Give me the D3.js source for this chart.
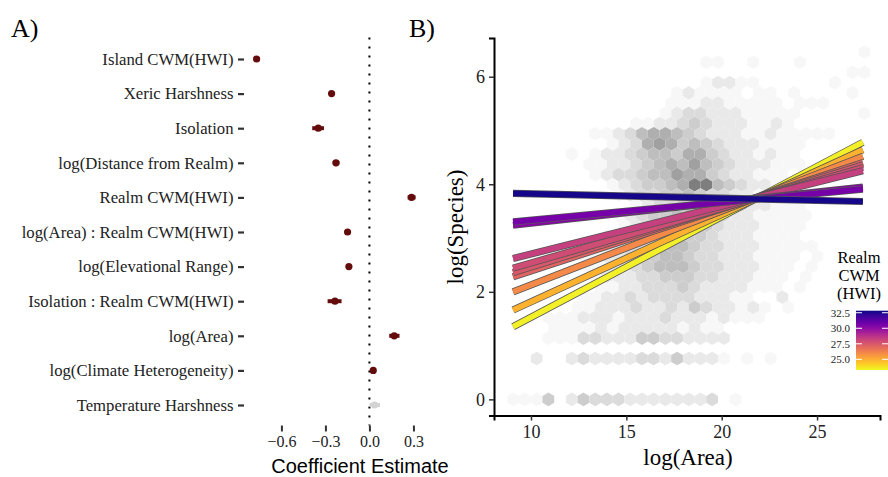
<!DOCTYPE html>
<html>
<head>
<meta charset="utf-8">
<script src="https://cdn.jsdelivr.net/npm/d3@7"></script>
<style>
  body { margin: 0; background: #fff; }
  svg { display: block; }
</style>
</head>
<body>
<div id="chart"></div>
<script>
// ---------- data: panel A (model coefficients) ----------
const terms = ['Island CWM(HWI)', 'Xeric Harshness', 'Isolation', 'log(Distance from Realm)',
  'Realm CWM(HWI)', 'log(Area) : Realm CWM(HWI)', 'log(Elevational Range)',
  'Isolation : Realm CWM(HWI)', 'log(Area)', 'log(Climate Heterogeneity)', 'Temperature Harshness'];
const coefEst = [-0.769, -0.258, -0.349, -0.228, 0.287, -0.149, -0.140, -0.235, 0.169, 0.026, 0.035];
const coefLo  = [-0.780, -0.268, -0.390, -0.250, 0.260, -0.160, -0.152, -0.285, 0.135, 0.012, 0.000];
const coefHi  = [-0.756, -0.248, -0.310, -0.205, 0.315, -0.138, -0.128, -0.190, 0.205, 0.040, 0.072];
const coefSig = [true, true, true, true, true, true, true, true, true, true, false];
const coefTicks = [-0.6, -0.3, 0.0, 0.3];

// ---------- data: panel B (hexbin counts + realm fits) ----------
// hex grid: [row, first column, shade levels 0-9]
const hexRows = [
  [34, 30, '1'],
  [33, 16, '110010001'],
  [32, 29, '11'],
  [31, 16, '122110000001'],
  [30, 14, '1211110110100001'],
  [29, 13, '111221111101110'],
  [28, 13, '123322211111000001'],
  [27, 10, '11223432221121'],
  [26, 7,  '112356654322211211111'],
  [25, 8,  '12367645432221111'],
  [24, 5,  '10122345546643221211'],
  [23, 6,  '1122345657543222111'],
  [22, 7,  '12334557664322111'],
  [21, 8,  '1234456995432211'],
  [20, 9,  '12334454332211'],
  [19, 10, '123345544322111'],
  [18, 9,  '12344554332211111'],
  [17, 9,  '1234554432221111'],
  [16, 8,  '12334554432221111'],
  [15, 7,  '1223345543322211111'],
  [14, 6,  '112233455433222111101'],
  [13, 6,  '11223455543322211101'],
  [12, 7,  '1222334443322211101'],
  [11, 7,  '112233343222211101'],
  [10, 6,  '112232333322211002'],
  [9, 5,   '1122232232432212101'],
  [8, 3,   '1112221222322212111'],
  [7, 3,   '111121222221211'],
  [6, 3,   '1113322244332222'],
  [4, 2,   '200232222332422210101'],
  [0, 0,   '11140243332222222301']
];
const hexX0 = 9.07, hexDX = 0.6135, hexDY = 0.19;

const realmCWM = [32.7, 30.6, 30.2, 28.3, 27.9, 27.5, 27.1, 26.0, 24.9, 23.5];
const fitX = [9.06, 27.4];
const fitLeft  = [3.83, 3.30, 3.24, 2.62, 2.44, 2.36, 2.28, 2.00, 1.66, 1.35];
const fitRight = [3.68, 3.91, 3.95, 4.25, 4.31, 4.36, 4.40, 4.52, 4.64, 4.78];

const xTicksB = [10, 15, 20, 25];
const yTicksB = [0, 2, 4, 6];
const legendTicks = [25.0, 27.5, 30.0, 32.5];
const legendRange = [23.28, 32.83];

// ---------- setup ----------
const width = 888, height = 477;
const serif = 'Liberation Serif, Times New Roman, serif';

const svg = d3.select('#chart').append('svg')
  .attr('width', width)
  .attr('height', height);

// =================== PANEL A ===================
const xA = d3.scaleLinear().domain([-0.855, 0.37]).range([244, 423.7]);
const yA = d3.scalePoint().domain(terms).range([59, 405]);

svg.append('text').attr('x', 11).attr('y', 37)
  .attr('font-family', serif).attr('font-size', 26).attr('fill', '#000').text('A)');

// zero reference line
svg.append('line')
  .attr('x1', xA(0)).attr('x2', xA(0))
  .attr('y1', 37.5).attr('y2', 425.5)
  .attr('stroke', '#000').attr('stroke-width', 2)
  .attr('stroke-dasharray', '2,7');

const coefData = terms.map((t, i) => ({ term: t, est: coefEst[i], lo: coefLo[i], hi: coefHi[i], sig: coefSig[i] }));

const gA = svg.append('g');
gA.selectAll('line.ci').data(coefData).enter().append('line')
  .attr('class', 'ci')
  .attr('x1', d => xA(d.lo)).attr('x2', d => xA(d.hi))
  .attr('y1', d => yA(d.term)).attr('y2', d => yA(d.term))
  .attr('stroke', d => d.sig ? '#640c0c' : '#d3d3d3')
  .attr('stroke-width', 4);
gA.selectAll('circle').data(coefData).enter().append('circle')
  .attr('cx', d => xA(d.est)).attr('cy', d => yA(d.term))
  .attr('r', 3.6)
  .attr('fill', d => d.sig ? '#640c0c' : '#d3d3d3');

// y axis (labels only + ticks)
const axA = svg.append('g').attr('transform', 'translate(244,0)')
  .call(d3.axisLeft(yA).tickSize(6).tickPadding(4.5));
axA.select('.domain').remove();
axA.selectAll('.tick line').attr('stroke', '#333').attr('stroke-width', 2.2);
axA.selectAll('.tick text').attr('font-family', serif).attr('font-size', 16.7).attr('fill', '#222');

// x axis
const axAx = svg.append('g').attr('transform', 'translate(0,425.5)')
  .call(d3.axisBottom(xA).tickValues(coefTicks).tickFormat(d3.format('.1f')).tickSize(6).tickPadding(4));
axAx.select('.domain').remove();
axAx.selectAll('.tick line').attr('stroke', '#333').attr('stroke-width', 2);
axAx.selectAll('.tick text').attr('font-family', serif).attr('font-size', 16).attr('fill', '#222');

svg.append('text').attr('x', 360).attr('y', 473)
  .attr('text-anchor', 'middle')
  .attr('font-family', 'Liberation Sans, Arial, sans-serif').attr('font-size', 20)
  .attr('fill', '#000').text('Coefficient Estimate');

// =================== PANEL B ===================
const xB = d3.scaleLinear().domain([8.06, 28.3]).range([494, 880]);
const yB = d3.scaleLinear().domain([-0.3, 6.72]).range([415.5, 38]);

svg.append('text').attr('x', 409).attr('y', 37)
  .attr('font-family', serif).attr('font-size', 26).attr('fill', '#000').text('B)');

// hexbins
const hexes = [];
hexRows.forEach(([k, c0, levels]) => {
  levels.split('').forEach((ch, j) => {
    const lv = +ch;
    if (lv === 0) return;
    const c = c0 + j;
    hexes.push({
      x: hexX0 + c * hexDX + (k % 2 ? hexDX / 2 : 0),
      y: k * hexDY,
      level: lv
    });
  });
});

const hexShade = d3.scaleLinear().domain([1, 9]).range(['#f7f7f7', '#7e7e7e'])
  .interpolate(d3.interpolateRgb.gamma(1.4));
const hw = hexDX / 2, hr = hexDY * 2 / 3;
function hexPath(d) {
  const pts = [[0, hr], [hw, hr / 2], [hw, -hr / 2], [0, -hr], [-hw, -hr / 2], [-hw, hr / 2]];
  return 'M' + pts.map(p => [xB(d.x + p[0]), yB(d.y + p[1])].join(',')).join('L') + 'Z';
}

svg.append('g').selectAll('path').data(hexes).enter().append('path')
  .attr('d', hexPath)
  .attr('fill', d => hexShade(d.level));

// realm fitted lines
const colorB = d3.scaleSequential(d3.interpolatePlasma).domain([legendRange[1], legendRange[0]]);
const fits = realmCWM.map((v, i) => ({ v: v, pts: [[fitX[0], fitLeft[i]], [fitX[1], fitRight[i]]] })).reverse();
const line = d3.line().x(p => xB(p[0])).y(p => yB(p[1]));

const gL = svg.append('g');
fits.forEach(f => {
  gL.append('path').attr('d', line(f.pts))
    .attr('fill', 'none').attr('stroke', '#555').attr('stroke-width', 7.2);
  gL.append('path').attr('d', line(f.pts))
    .attr('fill', 'none').attr('stroke', colorB(f.v)).attr('stroke-width', 5.6);
});

// axes
const axBy = svg.append('g').attr('transform', 'translate(494,0)')
  .call(d3.axisLeft(yB).tickValues(yTicksB).tickFormat(d3.format('d')).tickSize(5).tickPadding(4));
axBy.select('.domain').attr('stroke', '#000').attr('stroke-width', 2);
axBy.selectAll('.tick line').attr('stroke', '#333').attr('stroke-width', 1.5);
axBy.selectAll('.tick text').attr('font-family', serif).attr('font-size', 18).attr('fill', '#222');

const axBx = svg.append('g').attr('transform', 'translate(0,415.5)')
  .call(d3.axisBottom(xB).tickValues(xTicksB).tickFormat(d3.format('d')).tickSize(5).tickPadding(5));
axBx.select('.domain').attr('stroke', '#000').attr('stroke-width', 2);
axBx.selectAll('.tick line').attr('stroke', '#333').attr('stroke-width', 1.5);
axBx.selectAll('.tick text').attr('font-family', serif).attr('font-size', 18).attr('fill', '#222');

svg.append('text').attr('x', 688).attr('y', 465)
  .attr('text-anchor', 'middle')
  .attr('font-family', serif).attr('font-size', 23).attr('fill', '#000').text('log(Area)');

svg.append('text')
  .attr('transform', 'translate(463,227) rotate(-90)')
  .attr('text-anchor', 'middle')
  .attr('font-family', serif).attr('font-size', 23).attr('fill', '#000').text('log(Species)');

// legend
const legTitle = ['Realm', 'CWM', '(HWI)'];
svg.append('g').selectAll('text').data(legTitle).enter().append('text')
  .attr('x', 859).attr('y', (d, i) => 263 + i * 18)
  .attr('text-anchor', 'middle')
  .attr('font-family', serif).attr('font-size', 16.5).attr('fill', '#000')
  .text(d => d);

const defs = svg.append('defs');
const grad = defs.append('linearGradient').attr('id', 'plasmaBar')
  .attr('x1', 0).attr('x2', 0).attr('y1', 0).attr('y2', 1);
d3.range(0, 1.0001, 0.1).forEach(t => {
  grad.append('stop').attr('offset', t).attr('stop-color', d3.interpolatePlasma(t));
});

const yLeg = d3.scaleLinear().domain(legendRange).range([370, 310.7]);
const barX = 856, barW = 32;
svg.append('rect')
  .attr('x', barX).attr('y', yLeg(legendRange[1]))
  .attr('width', barW).attr('height', yLeg(legendRange[0]) - yLeg(legendRange[1]))
  .attr('fill', 'url(#plasmaBar)');

const legG = svg.append('g');
legendTicks.forEach(v => {
  legG.append('line').attr('x1', barX).attr('x2', barX + 6)
    .attr('y1', yLeg(v)).attr('y2', yLeg(v)).attr('stroke', '#fff').attr('stroke-width', 1);
  legG.append('line').attr('x1', barX + barW - 6).attr('x2', barX + barW)
    .attr('y1', yLeg(v)).attr('y2', yLeg(v)).attr('stroke', '#fff').attr('stroke-width', 1);
  legG.append('text').attr('x', 850).attr('y', yLeg(v)).attr('dy', '0.35em')
    .attr('text-anchor', 'end')
    .attr('font-family', serif).attr('font-size', 11).attr('fill', '#222')
    .text(d3.format('.1f')(v));
});
</script>
</body>
</html>
